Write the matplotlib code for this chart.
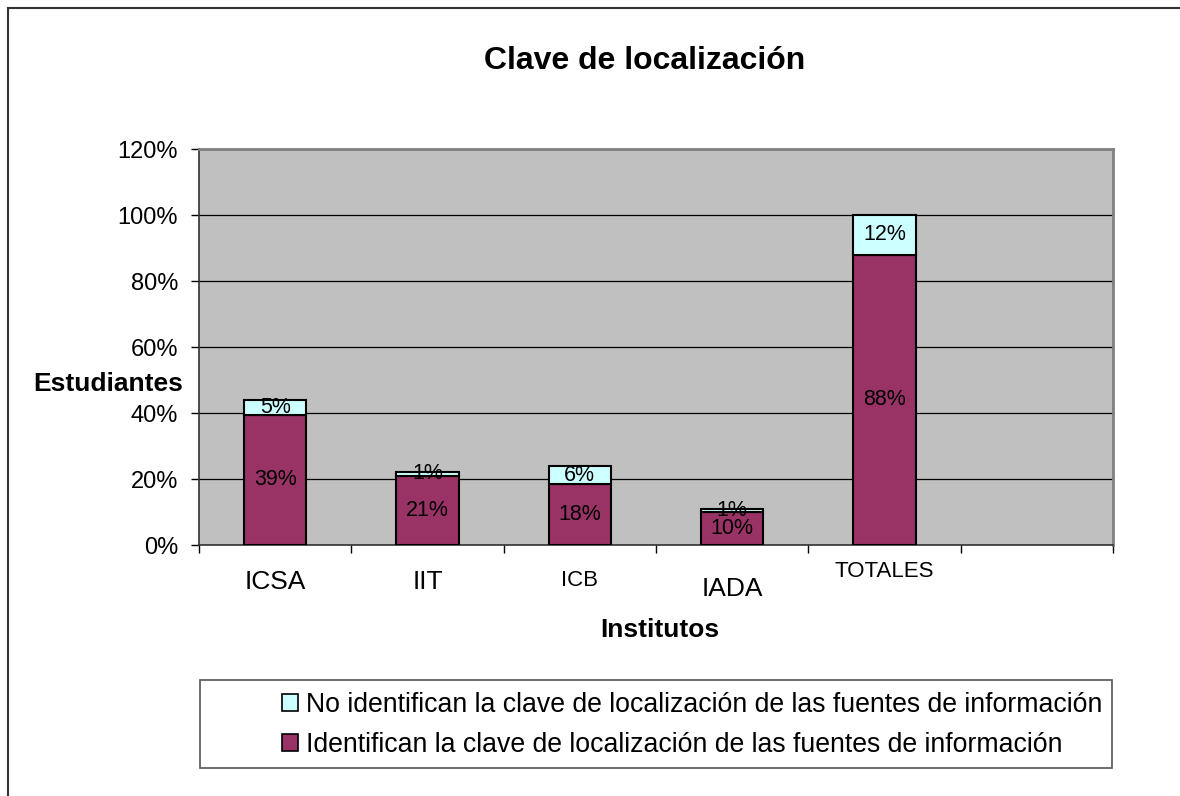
import numpy as np
import matplotlib.pyplot as plt
from matplotlib.patches import Rectangle, Patch
from matplotlib.lines import Line2D
import matplotlib.transforms as mtransforms

plt.rcParams['font.family'] = ['Liberation Sans', 'DejaVu Sans']

institutos = ["ICSA", "IIT", "ICB", "IADA", "TOTALES"]
identifican = [39.4, 21.0, 18.4, 9.9, 88.0]
no_identifican = [4.6, 1.2, 5.6, 0.9, 12.0]
yticks = [0, 20, 40, 60, 80, 100, 120]

# tick-label placement copied from the original (axes-fraction y, font size)
label_y = [-0.093, -0.093, -0.090, -0.110, -0.068]
label_size = [19, 19, 16, 19, 16]

col_id = "#993366"
col_no = "#CCFFFF"

fig = plt.figure(figsize=(11.8, 7.96), dpi=100)
ax = fig.add_axes([199 / 1180, 1 - 545 / 796, 914 / 1180, 396 / 796])
ax.set_facecolor("#C0C0C0")

x = np.arange(len(institutos)) + 0.5
w = 0.41
ax.bar(x, identifican, width=w, color=col_id, edgecolor="black", linewidth=1.5, zorder=3)
ax.bar(x, no_identifican, width=w, bottom=identifican, color=col_no,
       edgecolor="black", linewidth=1.5, zorder=3)

for xi, a, b in zip(x, identifican, no_identifican):
    ax.text(xi, a / 2, f"{round(a):.0f}%", ha="center", va="center", fontsize=15.5, zorder=4)
    ax.text(xi, a + b / 2, f"{round(b):.0f}%", ha="center", va="center", fontsize=15.5, zorder=4)

ax.set_xlim(0, 6)
ax.set_ylim(0, 120)
ax.set_yticks(yticks)
ax.set_yticklabels([f"{v}%" for v in yticks], fontsize=17)
ax.yaxis.grid(True, color="black", linewidth=0.9)
ax.set_axisbelow(True)
ax.tick_params(axis="y", length=6, width=1, direction="out", pad=9)

ax.set_xticks(np.arange(0, 7))
ax.set_xticklabels([])
ax.tick_params(axis="x", length=6, width=1, direction="out")

trans = mtransforms.blended_transform_factory(ax.transData, ax.transAxes)
for xi, name, ly, ls in zip(x, institutos, label_y, label_size):
    ax.text(xi, ly, name, transform=trans, ha="center", va="center", fontsize=ls)

for s in ["top", "right"]:
    ax.spines[s].set_color("#808080")
    ax.spines[s].set_linewidth(2)
ax.spines["left"].set_color("#333333")
ax.spines["bottom"].set_color("#333333")
ax.spines["left"].set_linewidth(1.2)
ax.spines["bottom"].set_linewidth(1.2)

fig.text(645 / 1180, 1 - 61 / 796, "Clave de localización", ha="center", va="center",
         fontsize=23, fontweight="bold")
fig.text(108 / 1180, 1 - 384 / 796, "Estudiantes", ha="center", va="center",
         fontsize=19, fontweight="bold")
fig.text(660 / 1180, 1 - 630 / 796, "Institutos", ha="center", va="center",
         fontsize=19, fontweight="bold")

# outer chart border (top and left visible)
fig.add_artist(Line2D([8 / 1180, 1], [1 - 8 / 796, 1 - 8 / 796], transform=fig.transFigure,
                      color="#333333", linewidth=1.5))
fig.add_artist(Line2D([8 / 1180, 8 / 1180], [0, 1 - 8 / 796], transform=fig.transFigure,
                      color="#333333", linewidth=1.5))

# legend box
fig.add_artist(Rectangle((200 / 1180, 1 - 768 / 796), 912 / 1180, 88 / 796,
                         transform=fig.transFigure, facecolor="white",
                         edgecolor="#555555", linewidth=1.2))
handles = [Patch(facecolor=col_no, edgecolor="black", linewidth=1.2),
           Patch(facecolor=col_id, edgecolor="black", linewidth=1.2)]
labels = ["No identifican la clave de localización de las fuentes de información",
          "Identifican la clave de localización de las fuentes de información"]
fig.legend(handles, labels, loc="center left", bbox_to_anchor=(282 / 1180, 1 - 725 / 796),
           frameon=False, fontsize=19.2, handlelength=0.6, handleheight=0.6,
           handletextpad=0.3, labelspacing=0.5, borderpad=0, borderaxespad=0)

fig.savefig("out.png", dpi=100)
